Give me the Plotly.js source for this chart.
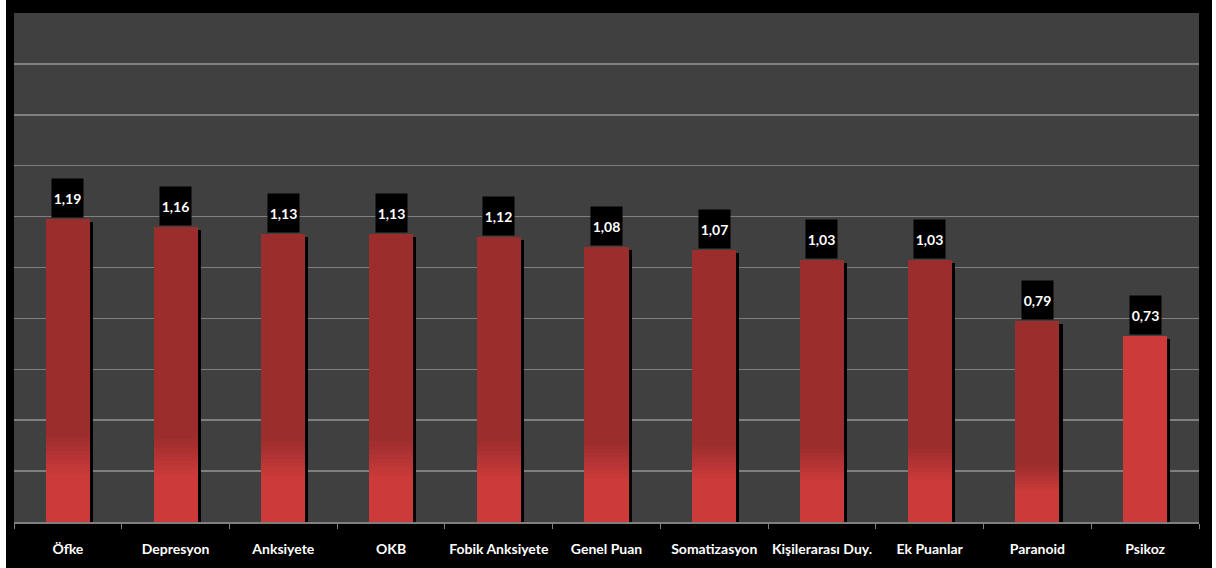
<!DOCTYPE html>
<html><head><meta charset="utf-8">
<script src="https://cdn.plot.ly/plotly-3.0.1.min.js"></script>
<style>html,body{margin:0;padding:0;background:#fff}#c{width:1216px;height:568px}</style>
</head><body><div id="c"></div>
<script>
const categories = ["Öfke","Depresyon","Anksiyete","OKB","Fobik Anksiyete","Genel Puan","Somatizasyon","Kişilerarası Duy.","Ek Puanlar","Paranoid","Psikoz"];
const values = [1.19,1.16,1.13,1.13,1.12,1.08,1.07,1.03,1.03,0.79,0.73];
const labels = ["1,19","1,16","1,13","1,13","1,12","1,08","1,07","1,03","1,03","0,79","0,73"];

const DARK = "#9b2d2d", LIGHT = "#cc3b3a";
const W = 0.41;
const last = categories.length - 1;
const traces = [];
// shadow
traces.push({type:"bar", x:categories, y:values.map(v=>v-0.012), width:W, offset:-W/2+0.028,
  marker:{color:"#000"}, hoverinfo:"skip", showlegend:false});
// main bar (Psikoz highlighted in light red)
traces.push({type:"bar", x:categories, y:values, width:W, offset:-W/2,
  marker:{color:categories.map((c,i)=>i===last?LIGHT:DARK)}, hoverinfo:"skip", showlegend:false});
// bottom gradient bands (style overlay)
const bands = [0.28,0.265,0.25,0.235,0.22,0.205,0.19,0.175,0.16];
function mix(a,b,t){const pa=[1,3,5].map(i=>parseInt(a.substr(i,2),16)),pb=[1,3,5].map(i=>parseInt(b.substr(i,2),16));
  return "rgb("+pa.map((p,k)=>Math.round(p+(pb[k]-p)*t)).join(",")+")";}
bands.forEach((f,k)=>{
  const col = mix(DARK,LIGHT,(k+1)/bands.length);
  traces.push({type:"bar", x:categories, y:values.map(v=>v*f), width:W, offset:-W/2,
    marker:{color:categories.map((c,i)=>i===last?LIGHT:col), line:{width:0}}, hoverinfo:"skip", showlegend:false});
});

const annotations = categories.map((c,i)=>({x:c, y:values[i], xref:"x", yref:"y", text:labels[i],
  showarrow:false, yanchor:"bottom", yshift:1, bgcolor:"#000", width:29, height:36,
  font:{family:"Lato, 'Open Sans', sans-serif", size:14, color:"#fff", weight:"bold"}}));

const layout = {
  width:1216, height:568,
  margin:{l:14, r:17, t:13, b:46},
  paper_bgcolor:"#000", plot_bgcolor:"#404040",
  barmode:"overlay", bargap:0,
  showlegend:false,
  xaxis:{type:"category", tickson:"boundaries", ticks:"outside", ticklen:5, tickcolor:"#7f7f7f",
    tickangle:0, automargin:false, ticklabelstandoff:14,
    showline:true, linecolor:"#7f7f7f", linewidth:1.5, showgrid:false,
    tickfont:{family:"Lato, 'Open Sans', sans-serif", size:14, color:"#fff", weight:"bold"}},
  yaxis:{range:[0,2.0], dtick:0.2, showticklabels:false, gridcolor:"#7f7f7f", gridwidth:1.5,
    zeroline:false, showline:false, ticks:""},
  annotations:annotations,
  shapes:[
    {type:"rect", xref:"paper", yref:"paper", x0:-14/1185, x1:-8/1185, y0:-46/509, y1:1+13/509, fillcolor:"#fff", line:{width:0}, layer:"below"},
    {type:"rect", xref:"paper", yref:"paper", x0:1198/1185, x1:1202/1185, y0:-46/509, y1:1+13/509, fillcolor:"#fff", line:{width:0}, layer:"below"}
  ]
};
Plotly.newPlot("c", traces, layout, {displayModeBar:false, staticPlot:true});
</script></body></html>
